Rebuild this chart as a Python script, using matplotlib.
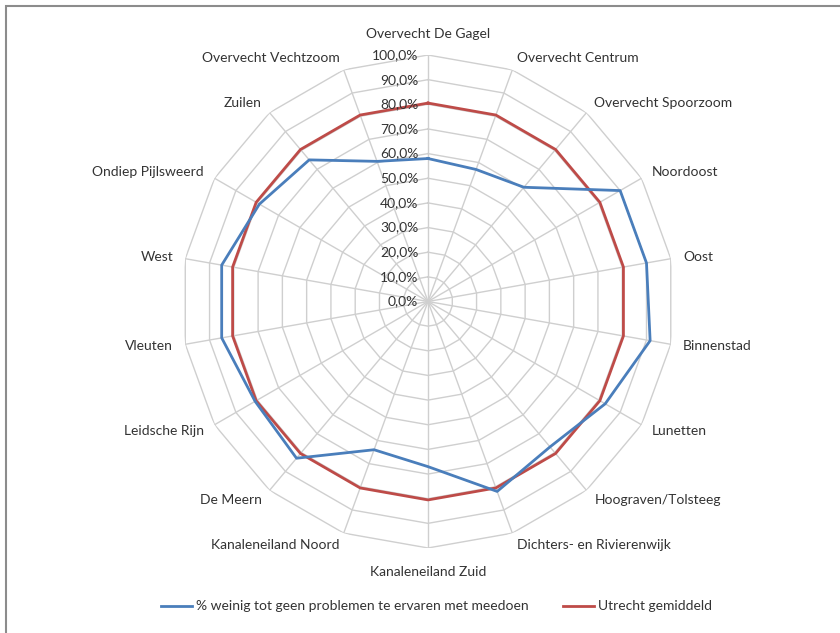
import numpy as np
import matplotlib
matplotlib.use("Agg")
import matplotlib.pyplot as plt
from matplotlib.patches import Rectangle

plt.rcParams['font.family'] = ['Lato', 'DejaVu Sans']

# wijken, clockwise from the top
wijken = [
    "Overvecht De Gagel", "Overvecht Centrum", "Overvecht Spoorzoom",
    "Noordoost", "Oost", "Binnenstad", "Lunetten", "Hoograven/Tolsteeg",
    "Dichters- en Rivierenwijk", "Kanaleneiland Zuid", "Kanaleneiland Noord",
    "De Meern", "Leidsche Rijn", "Vleuten", "West", "Ondiep Pijlsweerd",
    "Zuilen", "Overvecht Vechtzoom",
]
weinig_problemen = [58, 57, 60.5, 90, 90, 91.5, 83, 77, 82, 67, 64,
                    83, 81, 85, 85, 79, 75, 60.5]
utrecht_gem = [80.5] * len(wijken)
ring_ticks = [0, 10, 20, 30, 40, 50, 60, 70, 80, 90, 100]

blue = "#4a7ebb"
red = "#be4b48"
grid_col = "#cfcfcf"
txt_col = "#333333"


def main():
    n = len(wijken)
    theta = np.arange(n) * 2 * np.pi / n
    theta_c = np.append(theta, theta[0])

    fig = plt.figure(figsize=(8.4, 6.33), dpi=100)
    ax = fig.add_axes([0.2161, 0.1343, 0.5869, 0.7788], projection='polar')
    ax.set_theta_zero_location('N')
    ax.set_theta_direction(-1)
    ax.set_ylim(0, 100)
    ax.grid(False)
    ax.spines['polar'].set_visible(False)
    ax.set_xticks([])
    ax.set_yticks([])
    ax.patch.set_visible(False)

    # polygon rings and spokes
    for r in ring_ticks[1:]:
        ax.plot(theta_c, [r] * (n + 1), color=grid_col, lw=1.0, zorder=1)
    for t in theta:
        ax.plot([t, t], [0, 100], color=grid_col, lw=1.0, zorder=1)

    # series
    ax.plot(theta_c, utrecht_gem + utrecht_gem[:1], color=red, lw=2.0,
            zorder=3, label="Utrecht gemiddeld")
    ax.plot(theta_c, weinig_problemen + weinig_problemen[:1], color=blue,
            lw=2.0, zorder=4,
            label="% weinig tot geen problemen te ervaren met meedoen")

    # radial tick labels
    for r in ring_ticks:
        ax.annotate(f"{r:.1f}%".replace(".", ","), xy=(0, r),
                    xytext=(-7, 0), textcoords='offset points',
                    ha='right', va='center', fontsize=10, color=txt_col,
                    zorder=5)

    # category labels
    for t, name in zip(theta, wijken):
        deg = np.degrees(t)
        if deg < 1:
            ha, va, rr = 'center', 'bottom', 106
        elif abs(deg - 180) < 1:
            ha, va, rr = 'center', 'top', 107.5
        elif deg < 180:
            ha, va, rr = 'left', 'center', 105
        else:
            ha, va, rr = 'right', 'center', 105
        ax.text(t, rr, name, ha=ha, va=va, fontsize=10, color=txt_col)

    handles, labels = ax.get_legend_handles_labels()
    fig.legend(handles[::-1], labels[::-1], loc='center',
               bbox_to_anchor=(0.52, 0.042), ncol=2, frameon=False,
               fontsize=10, handlelength=2.2, columnspacing=2.5,
               handletextpad=0.3, labelcolor=txt_col)

    fig.patches.append(Rectangle((6 / 840, -0.05), 1.2, 1.05 - 6 / 633,
                                 transform=fig.transFigure, fill=False,
                                 edgecolor='#8c8c8c', lw=1.5))

    fig.savefig("out.png", dpi=100, facecolor='white')


if __name__ == '__main__':
    main()
